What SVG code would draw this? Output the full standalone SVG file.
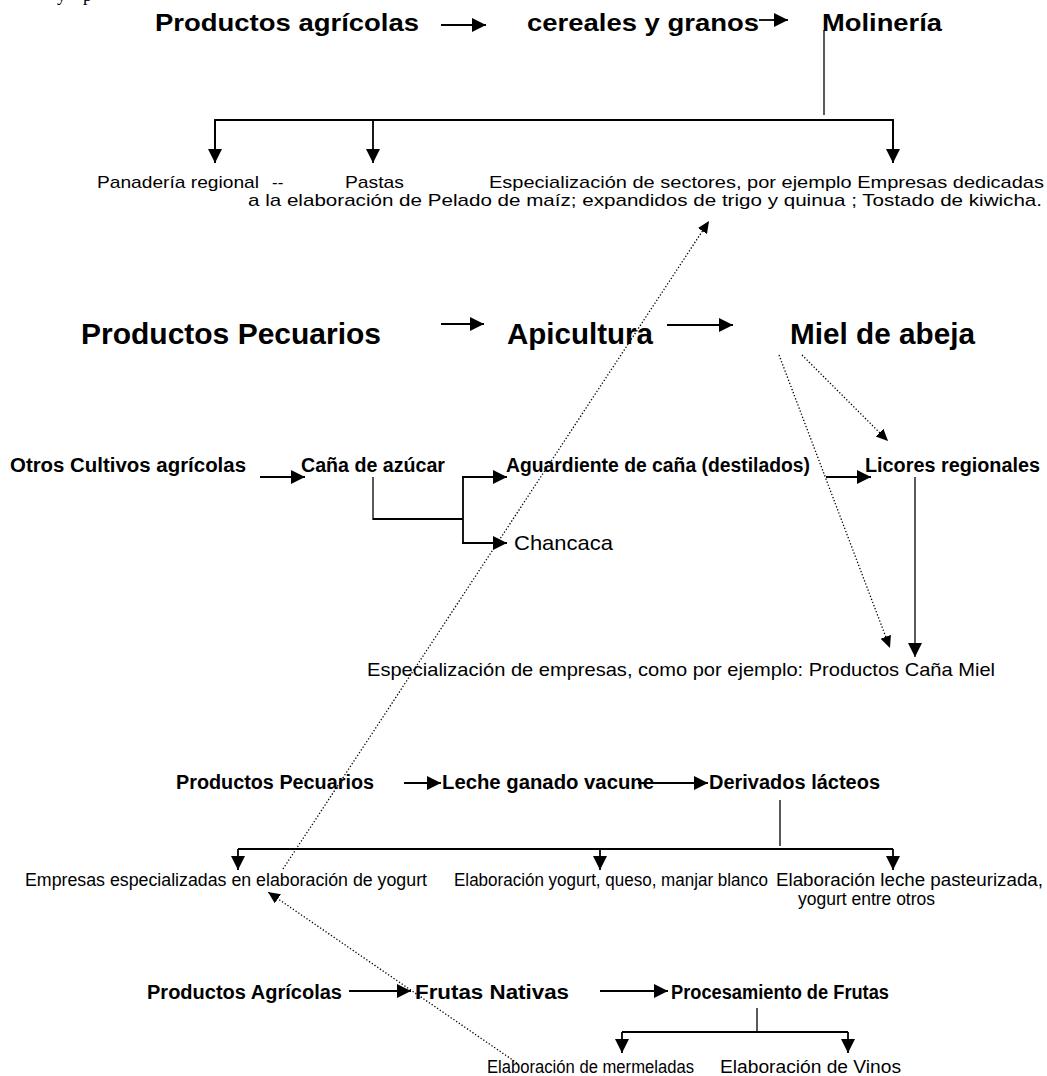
<svg xmlns="http://www.w3.org/2000/svg" width="1047" height="1076" viewBox="0 0 1047 1076">
<defs>
<style>
text{font-family:"Liberation Sans",Arial,sans-serif;fill:#000}
.b1{font-size:24px;font-weight:bold}
.b2{font-size:30px;font-weight:bold}
.b3{font-size:19.5px;font-weight:bold}
.r1{font-size:17px}
.r2{font-size:18.5px}
.r3{font-size:17.5px}
.ln{stroke:#000;stroke-width:1.8;fill:none}
.thin{stroke:#000;stroke-width:1.3;fill:none}
.dot{stroke:#000;stroke-width:1.3;fill:none;stroke-dasharray:1.3 2}
</style>
<marker id="ah" markerUnits="userSpaceOnUse" markerWidth="15" markerHeight="15" refX="14" refY="7" orient="auto"><path d="M0,0 L14,7 L0,14 z" fill="#000"/></marker>
<marker id="ad" markerUnits="userSpaceOnUse" markerWidth="13" markerHeight="12" refX="12" refY="5.5" orient="auto"><path d="M0,0 L12,5.5 L0,11 z" fill="#000"/></marker>
</defs>
<rect width="1047" height="1076" fill="#fff"/>
<text style="font-family:'Liberation Serif',serif;font-size:18px"><tspan x="57" y="1">y</tspan><tspan x="83" y="1">p</tspan></text>

<g id="connectors">
<line class="ln" x1="441" y1="25" x2="486" y2="25" marker-end="url(#ah)"/>
<line class="ln" x1="759" y1="20" x2="788" y2="20" marker-end="url(#ah)"/>
<line class="thin" x1="824" y1="30" x2="824" y2="115"/>
<polyline class="ln" points="215,163 215,120 893,120 893,163"/>
<line class="ln" x1="215" y1="120" x2="215" y2="163" marker-end="url(#ah)"/>
<line class="ln" x1="373" y1="120" x2="373" y2="163" marker-end="url(#ah)"/>
<line class="ln" x1="893" y1="120" x2="893" y2="163" marker-end="url(#ah)"/>

<line class="ln" x1="441" y1="324" x2="484" y2="324" marker-end="url(#ah)"/>
<line class="ln" x1="667" y1="325" x2="733" y2="325" marker-end="url(#ah)"/>

<line class="ln" x1="260" y1="477" x2="305" y2="477" marker-end="url(#ah)"/>
<line class="thin" x1="373" y1="477" x2="373" y2="520"/>
<line class="ln" x1="373" y1="519" x2="463" y2="519"/>
<line class="ln" x1="463" y1="477" x2="463" y2="543"/>
<line class="ln" x1="462" y1="477" x2="507" y2="477" marker-end="url(#ah)"/>
<line class="ln" x1="462" y1="543" x2="507" y2="543" marker-end="url(#ah)"/>
<line class="ln" x1="826" y1="477" x2="871" y2="477" marker-end="url(#ah)"/>
<line class="thin" x1="915" y1="477" x2="915" y2="657" marker-end="url(#ah)"/>

<line class="dot" x1="779" y1="355" x2="890" y2="648" marker-end="url(#ad)"/>
<line class="dot" x1="802" y1="355" x2="888" y2="441" marker-end="url(#ad)"/>
<line class="dot" x1="283" y1="869" x2="709" y2="221" marker-end="url(#ad)"/>

<line class="ln" x1="404" y1="783" x2="441" y2="783" marker-end="url(#ah)"/>
<line class="ln" x1="638" y1="783" x2="708" y2="783" marker-end="url(#ah)"/>
<line class="thin" x1="780" y1="800" x2="780" y2="846"/>
<line class="ln" x1="238" y1="849" x2="893" y2="849"/>
<line class="ln" x1="238" y1="849" x2="238" y2="870" marker-end="url(#ah)"/>
<line class="ln" x1="600" y1="849" x2="600" y2="870" marker-end="url(#ah)"/>
<line class="ln" x1="893" y1="849" x2="893" y2="870" marker-end="url(#ah)"/>

<line class="ln" x1="349" y1="991" x2="411" y2="991" marker-end="url(#ah)"/>
<line class="ln" x1="600" y1="991" x2="668" y2="991" marker-end="url(#ah)"/>
<line class="thin" x1="757" y1="1008" x2="757" y2="1032"/>
<line class="ln" x1="622" y1="1032" x2="848" y2="1032"/>
<line class="ln" x1="622" y1="1032" x2="622" y2="1053" marker-end="url(#ah)"/>
<line class="ln" x1="848" y1="1032" x2="848" y2="1053" marker-end="url(#ah)"/>
<line class="dot" x1="517" y1="1063" x2="268" y2="892" marker-end="url(#ad)"/>
</g>

<g id="n-productos-agricolas"><text class="b1" x="155" y="31" textLength="264" lengthAdjust="spacingAndGlyphs">Productos agrícolas</text></g>
<g id="n-cereales"><text class="b1" x="527" y="31" textLength="232" lengthAdjust="spacingAndGlyphs">cereales y granos</text></g>
<g id="n-molineria"><text class="b1" x="822" y="31" textLength="120" lengthAdjust="spacingAndGlyphs">Molinería</text></g>
<g id="n-panaderia"><text class="r1" x="97" y="188" textLength="162" lengthAdjust="spacingAndGlyphs">Panadería regional</text><text class="r1" x="272" y="188">--</text></g>
<g id="n-pastas"><text class="r1" x="345" y="188" textLength="59" lengthAdjust="spacingAndGlyphs">Pastas</text></g>
<g id="n-especializacion-sectores">
<text class="r1" x="489" y="188" textLength="555" lengthAdjust="spacingAndGlyphs">Especialización de sectores, por ejemplo Empresas dedicadas</text>
<text class="r1" x="248" y="206" textLength="794" lengthAdjust="spacingAndGlyphs">a la elaboración de Pelado de maíz; expandidos de trigo y quinua ; Tostado de kiwicha.</text>
</g>

<g id="n-productos-pecuarios-1"><text class="b2" x="81" y="344" textLength="300" lengthAdjust="spacingAndGlyphs">Productos Pecuarios</text></g>
<g id="n-apicultura"><text class="b2" x="507" y="344" textLength="146" lengthAdjust="spacingAndGlyphs">Apicultura</text></g>
<g id="n-miel"><text class="b2" x="790" y="344" textLength="185" lengthAdjust="spacingAndGlyphs">Miel de abeja</text></g>

<g id="n-otros-cultivos"><text class="b3" x="10" y="472" textLength="236" lengthAdjust="spacingAndGlyphs">Otros Cultivos agrícolas</text></g>
<g id="n-cana"><text class="b3" x="301" y="472" textLength="144" lengthAdjust="spacingAndGlyphs">Caña de azúcar</text></g>
<g id="n-aguardiente"><text class="b3" x="506" y="472" textLength="304" lengthAdjust="spacingAndGlyphs">Aguardiente de caña (destilados)</text></g>
<g id="n-licores"><text class="b3" x="865" y="472" textLength="175" lengthAdjust="spacingAndGlyphs">Licores regionales</text></g>
<g id="n-chancaca"><text x="514" y="550" style="font-size:21px" textLength="99" lengthAdjust="spacingAndGlyphs">Chancaca</text></g>
<g id="n-especializacion-empresas"><text class="r2" x="367" y="676" textLength="628" lengthAdjust="spacingAndGlyphs">Especialización de empresas, como por ejemplo: Productos Caña Miel</text></g>

<g id="n-productos-pecuarios-2"><text class="b3" x="176" y="789" textLength="198" lengthAdjust="spacingAndGlyphs">Productos Pecuarios</text></g>
<g id="n-leche"><text class="b3" x="442" y="789" textLength="212" lengthAdjust="spacingAndGlyphs">Leche ganado vacune</text></g>
<g id="n-derivados"><text class="b3" x="709" y="789" textLength="171" lengthAdjust="spacingAndGlyphs">Derivados lácteos</text></g>
<g id="n-empresas-yogurt"><text class="r3" x="25" y="886" textLength="402" lengthAdjust="spacingAndGlyphs">Empresas especializadas en elaboración de yogurt</text></g>
<g id="n-elab-yogurt"><text class="r3" x="454" y="886" textLength="314" lengthAdjust="spacingAndGlyphs">Elaboración yogurt, queso, manjar blanco</text></g>
<g id="n-elab-leche">
<text class="r3" x="776" y="886" textLength="267" lengthAdjust="spacingAndGlyphs">Elaboración leche pasteurizada,</text>
<text class="r3" x="798" y="905" textLength="137" lengthAdjust="spacingAndGlyphs">yogurt entre otros</text>
</g>

<g id="n-productos-agricolas-2"><text class="b3" x="147" y="999" textLength="195" lengthAdjust="spacingAndGlyphs">Productos Agrícolas</text></g>
<g id="n-frutas"><text class="b3" x="415" y="999" textLength="154" lengthAdjust="spacingAndGlyphs">Frutas Nativas</text></g>
<g id="n-procesamiento"><text class="b3" x="671" y="999" textLength="218" lengthAdjust="spacingAndGlyphs">Procesamiento de Frutas</text></g>
<g id="n-mermeladas"><text class="r3" x="487" y="1073" textLength="207" lengthAdjust="spacingAndGlyphs">Elaboración de mermeladas</text></g>
<g id="n-vinos"><text class="r3" x="720" y="1073" textLength="181" lengthAdjust="spacingAndGlyphs">Elaboración de Vinos</text></g>
</svg>
